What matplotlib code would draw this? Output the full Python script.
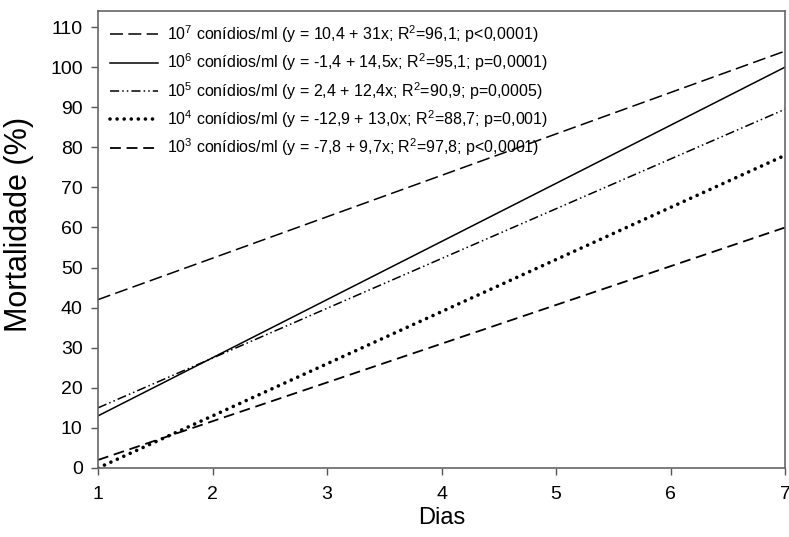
import matplotlib
matplotlib.use("Agg")
import matplotlib.pyplot as plt

plt.rcParams['font.family'] = ['Liberation Sans', 'DejaVu Sans']
plt.rcParams['mathtext.default'] = 'regular'

# Data: regression lines read at x=1 and x=7
x_days = [1, 7]
y_1e7 = [42.0, 104.0]
y_1e6 = [13.0, 100.0]
y_1e5 = [15.0, 89.5]
y_1e4 = [0.0, 78.0]
y_1e3 = [2.0, 60.0]

labels = [
    r'$10^{7}$ conídios/ml (y = 10,4 + 31x; R$^{2}$=96,1; p<0,0001)',
    r'$10^{6}$ conídios/ml (y = -1,4 + 14,5x; R$^{2}$=95,1; p=0,0001)',
    r'$10^{5}$ conídios/ml (y = 2,4 + 12,4x; R$^{2}$=90,9; p=0,0005)',
    r'$10^{4}$ conídios/ml (y = -12,9 + 13,0x; R$^{2}$=88,7; p=0,001)',
    r'$10^{3}$ conídios/ml (y = -7,8 + 9,7x; R$^{2}$=97,8; p<0,0001)',
]
xticks = [1, 2, 3, 4, 5, 6, 7]
yticks = [0, 10, 20, 30, 40, 50, 60, 70, 80, 90, 100, 110]

fig = plt.figure(figsize=(7.89, 5.37), dpi=100)
ax = fig.add_axes([0.1242, 0.1285, 0.8708, 0.851])

ax.plot(x_days, y_1e7, color='black', lw=1.1, linestyle=(0, (8.5, 3.5)), label=labels[0])
ax.plot(x_days, y_1e6, color='black', lw=1.1, linestyle='-', label=labels[1])
ax.plot(x_days, y_1e5, color='black', lw=1.1, linestyle=(0, (6, 2, 1, 2, 1, 2)), label=labels[2])
ax.plot(x_days, y_1e4, color='black', lw=2.6, linestyle=(0, (0.01, 1.95)), dash_capstyle='round', label=labels[3])
ax.plot(x_days, y_1e3, color='black', lw=1.3, linestyle=(0, (6, 3.2)), label=labels[4])

ax.set_xlim(1, 7)
ax.set_ylim(0, 114)
ax.set_xticks(xticks)
ax.set_yticks(yticks)
ax.tick_params(axis='both', direction='out', length=5, width=1, color='#555555', labelsize=14, pad=6)
ax.tick_params(axis='x', pad=8)
ax.tick_params(top=False, right=False)
for s in ax.spines.values():
    s.set_color('#666666')
    s.set_linewidth(1.2)

ax.set_xlabel('Dias', fontsize=17, labelpad=3)
ax.set_ylabel('Mortalidade (%)', fontsize=22)
ax.yaxis.set_label_coords(-0.093, 0.534)

leg = ax.legend(loc='upper left', bbox_to_anchor=(0.0, 1.0), frameon=False, fontsize=11.5,
                handlelength=3.0, handletextpad=0.6, labelspacing=0.42, borderaxespad=0.35)

fig.savefig('out.png', dpi=100)
